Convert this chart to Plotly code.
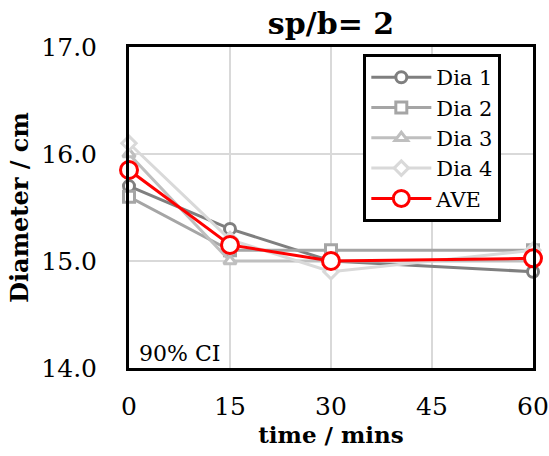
import plotly.graph_objects as go

time = [0, 15, 30, 60]
dia1 = [15.7, 15.3, 15.0, 14.9]
dia2 = [15.6, 15.1, 15.1, 15.1]
dia3 = [16.0, 15.0, 15.0, 15.0]
dia4 = [16.1, 15.2, 14.9, 15.1]
ave = [15.85, 15.15, 15.0, 15.025]
x_ticks = [0, 15, 30, 45, 60]
y_ticks = [14, 15, 16, 17]

series = [
    ("Dia 1", dia1, "#7f7f7f", "circle"),
    ("Dia 2", dia2, "#a5a5a5", "square"),
    ("Dia 3", dia3, "#bfbfbf", "triangle-up"),
    ("Dia 4", dia4, "#d9d9d9", "diamond"),
]

FONT = "DejaVu Serif"
fig = go.Figure()
for name, vals, col, sym in series:
    fig.add_trace(go.Scatter(
        x=time, y=vals, name=name, mode="lines+markers",
        line=dict(color=col, width=3),
        marker=dict(symbol=sym, size=11, color="white", line=dict(width=3, color=col)),
        cliponaxis=False,
    ))
fig.add_trace(go.Scatter(
    x=time, y=ave, name="AVE", mode="lines+markers",
    line=dict(color="#ff0000", width=3),
    marker=dict(symbol="circle", size=17, color="white", line=dict(width=3, color="#ff0000")),
    cliponaxis=False,
))

fig.update_layout(
    width=549, height=456,
    margin=dict(l=129, r=16, t=47, b=88, autoexpand=False),
    paper_bgcolor="white", plot_bgcolor="white",
    font=dict(family=FONT, color="black"),
    title=dict(text="<b>sp/b= 2</b>", x=0.5, xanchor="center", xref="paper",
               y=1 - 23 / 456, yref="container", yanchor="middle",
               font=dict(size=30, family=FONT)),
    showlegend=True,
    legend=dict(x=0.58, y=0.978, xanchor="left", yanchor="top",
                bgcolor="white", bordercolor="black", borderwidth=3,
                font=dict(size=21, family=FONT), tracegroupgap=0,
                itemwidth=60),
    annotations=[dict(text="90% CI", xref="paper", yref="paper", x=0.02, y=0.0,
                      xanchor="left", yanchor="bottom", showarrow=False,
                      font=dict(size=22, family=FONT))],
)
fig.update_xaxes(range=[0, 60], tickvals=x_ticks, automargin=False,
                 showgrid=True, gridcolor="#d9d9d9", gridwidth=2,
                 showline=True, linecolor="black", linewidth=3, mirror=True,
                 zeroline=False, ticks="", tickfont=dict(size=25, family=FONT),
                 ticklabelstandoff=14,
                 title=dict(text="<b>time / mins</b>", font=dict(size=23, family=FONT), standoff=0))
fig.update_yaxes(range=[14, 17], tickvals=y_ticks, tickformat=".1f", automargin=False,
                 showgrid=True, gridcolor="#d9d9d9", gridwidth=2,
                 showline=True, linecolor="black", linewidth=3, mirror=True,
                 zeroline=False, ticks="", tickfont=dict(size=25, family=FONT),
                 ticklabelstandoff=24,
                 title=dict(text="<b>Diameter / cm</b>", font=dict(size=24, family=FONT), standoff=6))

fig.write_html("out.html")
